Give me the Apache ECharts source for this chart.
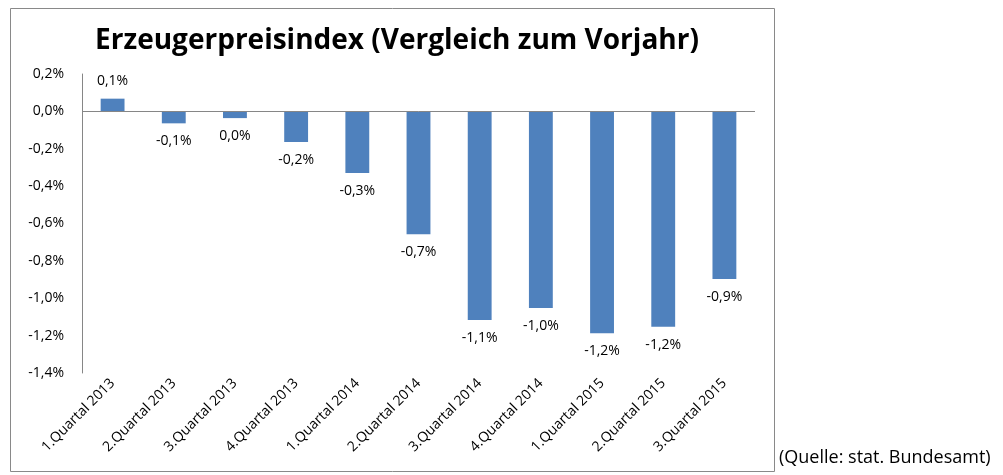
<!DOCTYPE html>
<html>
<head>
<meta charset="utf-8">
<script src="https://cdn.jsdelivr.net/npm/echarts@6/dist/echarts.min.js"></script>
<style>
  html, body { margin: 0; padding: 0; background: #fff; }
  #main { width: 1003px; height: 475px; }
</style>
</head>
<body>
<div id="main"></div>
<script>
// Kategorien (Quartale)
var categories = ['1.Quartal 2013', '2.Quartal 2013', '3.Quartal 2013', '4.Quartal 2013',
    '1.Quartal 2014', '2.Quartal 2014', '3.Quartal 2014', '4.Quartal 2014',
    '1.Quartal 2015', '2.Quartal 2015', '3.Quartal 2015'];
// Werte in Prozent (aus dem Bild geschätzt)
var values = [0.068, -0.064, -0.036, -0.164, -0.33, -0.658, -1.116, -1.052, -1.187, -1.153, -0.897];
// Beschriftungen wie im Original
var valueLabels = ['0,1%', '-0,1%', '0,0%', '-0,2%', '-0,3%', '-0,7%', '-1,1%', '-1,0%', '-1,2%', '-1,2%', '-0,9%'];

var myChart = echarts.init(document.getElementById('main'));

var seriesData = [];
for (var i = 0; i < values.length; i++) {
    seriesData.push({
        value: values[i],
        label: { position: values[i] >= 0 ? 'top' : 'bottom' }
    });
}

var option = {
    backgroundColor: '#ffffff',
    animation: false,
    title: {
        text: 'Erzeugerpreisindex (Vergleich zum Vorjahr)',
        left: 392,
        top: 22,
        textAlign: 'center',
        textStyle: {
            fontFamily: 'Open Sans',
            fontSize: 28,
            fontWeight: 'bold',
            color: '#000'
        }
    },
    grid: {
        left: 82,
        right: 248,
        top: 74,
        bottom: 102,
        containLabel: false
    },
    xAxis: {
        type: 'category',
        data: categories,
        axisLine: { show: false, onZero: false },
        axisTick: { show: false },
        axisLabel: {
            rotate: 45,
            interval: 0,
            margin: 8,
            fontFamily: 'Open Sans',
            fontSize: 14,
            color: '#000'
        }
    },
    yAxis: {
        type: 'value',
        min: -1.4,
        max: 0.2,
        interval: 0.2,
        axisLine: { show: true, lineStyle: { color: '#868686' } },
        axisTick: { show: false },
        splitLine: { show: false },
        axisLabel: {
            margin: 18,
            fontFamily: 'Open Sans',
            fontSize: 14,
            color: '#000',
            formatter: function (v) {
                return v.toFixed(1).replace('.', ',') + '%';
            }
        }
    },
    series: [
        {
            type: 'bar',
            data: seriesData,
            barWidth: '39%',
            itemStyle: { color: '#4f81bd' },
            label: {
                show: true,
                distance: 11,
                fontFamily: 'Open Sans',
                fontSize: 14,
                color: '#000',
                formatter: function (p) {
                    return valueLabels[p.dataIndex];
                }
            },
            markLine: {
                silent: true,
                symbol: 'none',
                label: { show: false },
                lineStyle: { color: '#868686', type: 'solid', width: 1 },
                data: [{ yAxis: 0 }]
            }
        }
    ],
    graphic: [
        {
            type: 'rect',
            shape: { x: 10.5, y: 8.5, width: 764, height: 463 },
            style: { fill: 'none', stroke: '#898989', lineWidth: 1 },
            z: -1
        },
        {
            type: 'text',
            left: 779,
            top: 449,
            style: {
                text: '(Quelle: stat. Bundesamt)',
                font: '18px "Open Sans"',
                fill: '#000'
            }
        }
    ]
};

myChart.setOption(option);
</script>
</body>
</html>
